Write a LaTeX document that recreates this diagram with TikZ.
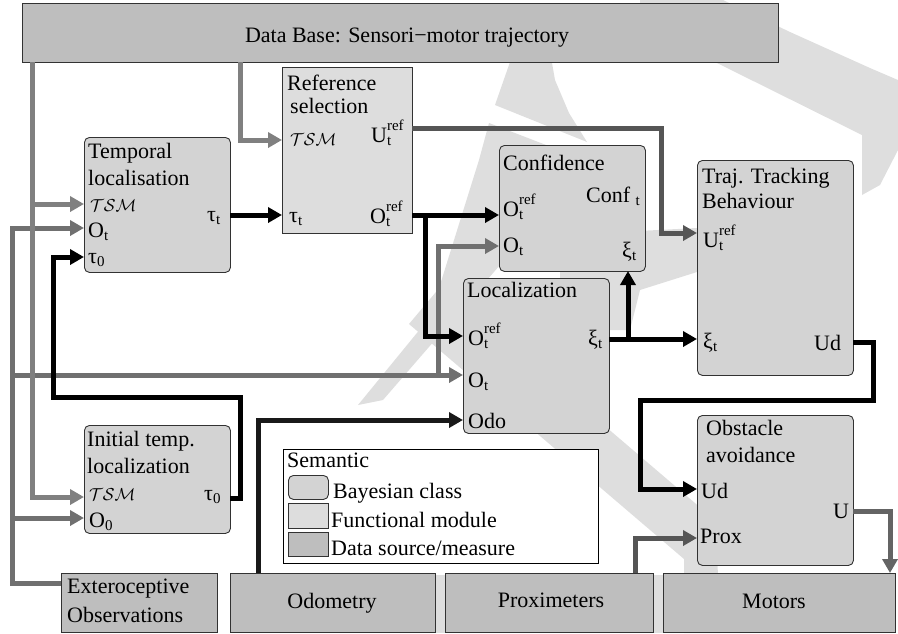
\documentclass[tikz,border=0pt]{standalone}
\usepackage{fontspec}
\setmainfont{Liberation Serif}
\newfontfamily\tnrfont{Liberation Serif}
\usetikzlibrary{arrows.meta}
\definecolor{wm}{RGB}{222,222,222}
\definecolor{dsrc}{RGB}{190,190,190}
\definecolor{bayes}{RGB}{211,211,211}
\definecolor{func}{RGB}{221,221,221}
\definecolor{glight}{RGB}{128,128,128}
\definecolor{gmid}{RGB}{112,112,112}
\definecolor{gdark}{RGB}{85,85,85}
\definecolor{gmot}{RGB}{100,100,100}
\definecolor{bord}{RGB}{50,50,50}
\newcommand\Sb[2]{#1\raisebox{-3pt}{\fontsize{15}{15}\selectfont #2}}
\newcommand\SbSp[3]{#1\raisebox{-3pt}{\fontsize{15}{15}\selectfont\begin{tabular}[b]{@{}l@{}}#3\\#2\end{tabular}}}
\newcommand\TSMlab{{\fontsize{17}{20}\selectfont$\mathcal{TSM}$}}
\begin{document}
\begin{tikzpicture}[x=1pt,y=-1pt,font=\tnrfont\fontsize{22}{27}\selectfont,
  nbox/.style={draw=bord,line width=0.9pt,inner sep=0pt,anchor=north west},
  bayesbox/.style={nbox,fill=bayes,rounded corners=5pt},
  funcbox/.style={nbox,fill=func},
  databox/.style={nbox,fill=dsrc},
  lbl/.style={inner sep=0pt,anchor=base west},
  ctr/.style={inner sep=0pt,anchor=base},
  wire/.style={line width=5pt},
  arr/.style={wire,-{Triangle[length=14pt,width=15pt]}},
  blk/.style={arr,draw=black},
  lg/.style={arr,draw=glight},
  mg/.style={arr,draw=gmid},
  dg/.style={arr,draw=gdark}]
\useasboundingbox (0,0) rectangle (898,633);
% watermark
\fill[wm] (505,40) -- (548,40) -- (555,80) -- (569,113) -- (587,142) -- (495,105) -- (510,62) -- cycle;
\fill[wm] (489,123) -- (585,160) -- (500,265) -- (383,400) -- (358,405) -- (430,317) -- (479,160) -- cycle;
\fill[wm] (640,0) -- (723,0) -- (790,32) -- (870,68) -- (898,80) -- (898,150) -- (880,185) -- (862,195) -- (862,135) -- (717,63) -- (640,40) -- cycle;
\fill[wm] (560,235) -- (697,228) -- (697,272) -- (640,290) -- (630,330) -- (600,330) -- (560,300) -- cycle;
\fill[wm] (441,286) -- (716,521) -- (720,633) -- (684,633) -- (684,559) -- (409,324) -- cycle;
\fill[wm] (420,575) -- (700,575) -- (700,633) -- (420,633) -- cycle;
% boxes
\node[databox,minimum width=756pt,minimum height=59pt] (db) at (22,3) {};
\node[ctr] (dbt) at (407,42) {Data Base: Sensori\textminus motor trajectory};
\node[funcbox,minimum width=130pt,minimum height=166pt] (rs) at (282,67) {};
\node[bayesbox,minimum width=146pt,minimum height=135pt] (tl) at (84,137) {};
\node[bayesbox,minimum width=146pt,minimum height=126pt] (co) at (499,145) {};
\node[bayesbox,minimum width=156pt,minimum height=215pt] (tr) at (697,160) {};
\node[bayesbox,minimum width=146pt,minimum height=155pt] (lo) at (463,278) {};
\node[bayesbox,minimum width=156pt,minimum height=150pt] (ob) at (697,415) {};
\node[bayesbox,minimum width=146pt,minimum height=108pt] (it) at (84,425) {};
\node[draw=black,line width=1.3pt,fill=white,inner sep=0pt,anchor=north west,minimum width=315pt,minimum height=114pt] (lg) at (283,449) {};
\node[databox,minimum width=156pt,minimum height=59pt] (ex) at (61,573) {};
\node[databox,minimum width=205pt,minimum height=59pt] (od) at (230,573) {};
\node[databox,minimum width=208pt,minimum height=59pt] (px) at (445,573) {};
\node[databox,minimum width=232pt,minimum height=59pt] (mo) at (663,573) {};
% legend
\node[lbl] (lg1) at (287,467) {Semantic};
\node[bayesbox,minimum width=40pt,minimum height=24pt] (sw1) at (288,475) {};
\node[funcbox,minimum width=40pt,minimum height=25pt] (sw2) at (288,503) {};
\node[databox,minimum width=40pt,minimum height=24pt] (sw3) at (288,532) {};
\node[lbl] (lg2) at (333,498) {Bayesian class};
\node[lbl] (lg3) at (331,527) {Functional module};
\node[lbl] (lg4) at (331,555) {Data source/measure};
% labels: temporal localisation
\node[lbl] (tl1) at (88,158) {Temporal};
\node[lbl] (tl2) at (88,185) {localisation};
\node[lbl] (tl3) at (90,211) {\TSMlab};
\node[lbl] (tl4) at (88,237) {\Sb{O}{t}};
\node[lbl] (tl5) at (88,263) {\Sb{τ}{0}};
\node[lbl] (tl6) at (207,221) {\Sb{τ}{t}};
% reference selection
\node[lbl] (rs1) at (287,90) {Reference};
\node[lbl] (rs2) at (290,113) {selection};
\node[lbl] (rs3) at (290,145) {\TSMlab};
\node[lbl] (rs4) at (371,142) {\SbSp{U}{t}{ref}};
\node[lbl] (rs5) at (289,222) {\Sb{τ}{t}};
\node[lbl] (rs6) at (370,223) {\SbSp{O}{t}{ref}};
% confidence
\node[lbl] (co1) at (503,170) {Confidence};
\node[lbl] (co2) at (503,216) {\SbSp{O}{t}{ref}};
\node[lbl] (co3) at (586,202) {Conf \Sb{}{t}};
\node[lbl] (co4) at (503,252) {\Sb{O}{t}};
\node[lbl] (co5) at (622,257) {\Sb{ξ}{t}};
% localization
\node[lbl] (lo1) at (467,297) {Localization};
\node[lbl] (lo2) at (468,345) {\SbSp{O}{t}{ref}};
\node[lbl] (lo3) at (468,387) {\Sb{O}{t}};
\node[lbl] (lo4) at (468,428) {Odo};
\node[lbl] (lo5) at (588,345) {\Sb{ξ}{t}};
% trajectory tracking
\node[lbl] (tr1) at (702,183) {Traj. Tracking};
\node[lbl] (tr2) at (702,208) {Behaviour};
\node[lbl] (tr3) at (703,247) {\SbSp{U}{t}{ref}};
\node[lbl] (tr4) at (703,348) {\Sb{ξ}{t}};
\node[lbl] (tr5) at (814,350) {Ud};
% obstacle avoidance
\node[lbl] (ob1) at (706,435) {Obstacle};
\node[lbl] (ob2) at (706,462) {avoidance};
\node[lbl] (ob3) at (701,498) {Ud};
\node[lbl] (ob4) at (700,543) {Prox};
\node[lbl] (ob5) at (833,518) {U};
% initial temp localization
\node[lbl] (it1) at (87,446) {Initial temp.};
\node[lbl] (it2) at (87,473) {localization};
\node[lbl] (it3) at (89,500) {\TSMlab};
\node[lbl] (it4) at (89,527) {\Sb{O}{0}};
\node[lbl] (it5) at (204,500) {\Sb{τ}{0}};
% data sources
\node[lbl] (ex1) at (67,593) {Exteroceptive};
\node[lbl] (ex2) at (67,622) {Observations};
\node[ctr] (odt) at (332,608) {Odometry};
\node[ctr] (pxt) at (551,607) {Proximeters};
\node[ctr] (mot) at (774,608) {Motors};
% ports
\coordinate (db-a) at (32,62);
\coordinate (db-b) at (240,62);
\coordinate (tl-tsm) at (84,204);
\coordinate (tl-ot) at (84,228);
\coordinate (tl-t0) at (84,257);
\coordinate (tl-tau) at (230,215);
\coordinate (rs-tsm) at (282,140);
\coordinate (rs-tau) at (282,215);
\coordinate (rs-u) at (412,128);
\coordinate (rs-o) at (412,215);
\coordinate (co-o) at (499,215);
\coordinate (co-ot) at (499,246);
\coordinate (co-xi) at (628,271);
\coordinate (lo-o) at (463,336);
\coordinate (lo-ot) at (463,375);
\coordinate (lo-odo) at (463,420);
\coordinate (lo-xi) at (609,339);
\coordinate (tr-u) at (697,233);
\coordinate (tr-xi) at (697,339);
\coordinate (tr-ud) at (853,342);
\coordinate (ob-ud) at (697,489);
\coordinate (ob-px) at (697,538);
\coordinate (ob-u) at (853,511);
\coordinate (it-tsm) at (84,497);
\coordinate (it-o0) at (84,518);
\coordinate (it-tau) at (230,498);
\coordinate (ex-w) at (61,583);
\coordinate (bus) at (12,228);
\coordinate (od-n) at (258,573);
\coordinate (px-n) at (635,573);
\coordinate (mo-n) at (890,573);
% connectors
\draw[mg] (ex-w) -| (bus) -- (tl-ot);
\draw[mg] (bus |- it-o0) -- (it-o0);
\draw[mg] (bus |- lo-ot) -- (lo-ot);
\draw[mg] (438,375) |- (co-ot);
\draw[lg] (db-a) |- (it-tsm);
\draw[lg] (db-a |- tl-tsm) -- (tl-tsm);
\draw[lg] (db-b) |- (rs-tsm);
\draw[blk] (it-tau) -- (240,498) -- (240,397) -- (53,397) |- (tl-t0);
\draw[blk] (tl-tau) -- (rs-tau);
\draw[blk] (rs-o) -- (co-o);
\draw[blk] (425,215) |- (lo-o);
\draw[dg] (rs-u) -- (661,128) |- (tr-u);
\draw[blk] (lo-xi) -- (tr-xi);
\draw[blk] (628,339) -- (co-xi);
\draw[blk] (tr-ud) -- (873,342) -- (873,400) -- (640,400) |- (ob-ud);
\draw[blk,draw={rgb,255:red,25;green,25;blue,25}] (od-n) |- (lo-odo);
\draw[dg] (px-n) |- (ob-px);
\draw[arr,draw=gmot] (ob-u) -| (mo-n);
\end{tikzpicture}
\end{document}
